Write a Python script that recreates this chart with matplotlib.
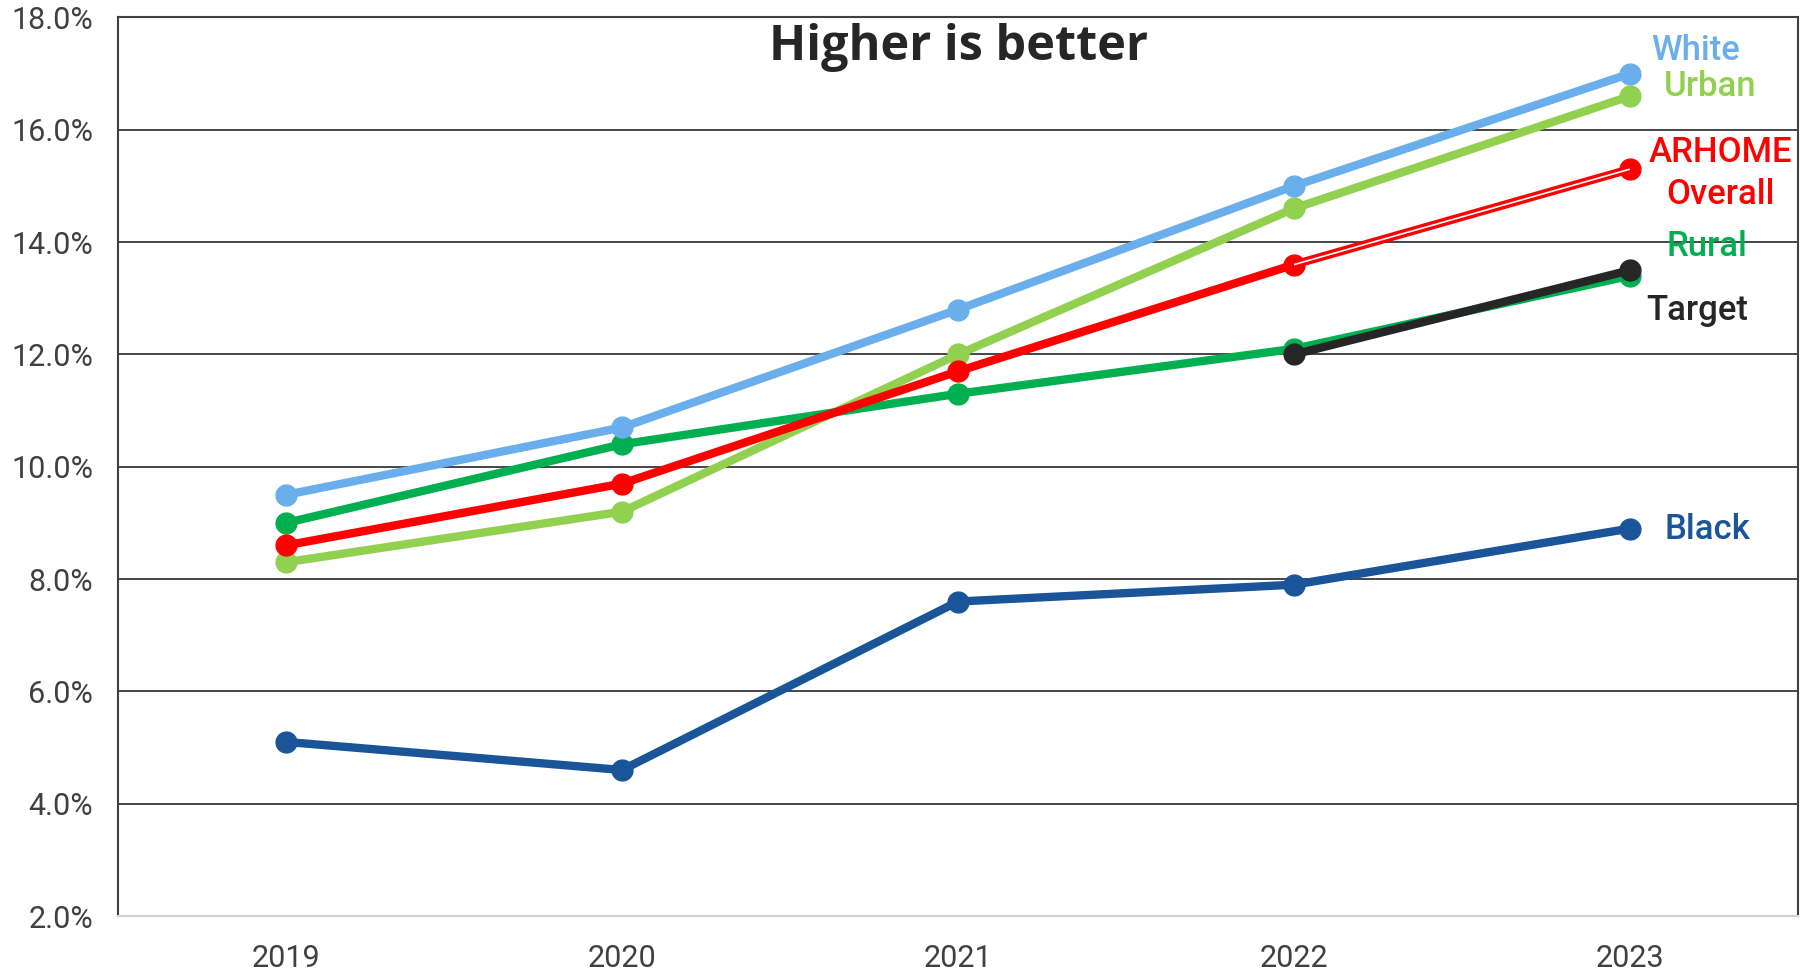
import numpy as np
import matplotlib
matplotlib.use("Agg")
import matplotlib.pyplot as plt

years = ["2019", "2020", "2021", "2022", "2023"]
white = [9.5, 10.7, 12.8, 15.0, 17.0]
urban = [8.3, 9.2, 12.0, 14.6, 16.6]
overall = [8.6, 9.7, 11.7, 13.6, 15.3]
rural = [9.0, 10.4, 11.3, 12.1, 13.4]
target_years = ["2022", "2023"]
target = [12.0, 13.5]
black = [5.1, 4.6, 7.6, 7.9, 8.9]

yticks = [2, 4, 6, 8, 10, 12, 14, 16, 18]

C_WHITE = "#6aaeeb"
C_URBAN = "#92d050"
C_RED = "#ff0000"
C_RURAL = "#00b050"
C_TARGET = "#262626"
C_BLACK = "#1a5599"

plt.rcParams["font.family"] = ["Roboto", "DejaVu Sans"]

fig = plt.figure(figsize=(18, 9.72), dpi=100)
ax = fig.add_axes([0.0656, 0.0576, 0.9333, 0.9244])

x = np.arange(len(years))
xt = np.array([years.index(y) for y in target_years])

lw, ms = 6, 15
ax.plot(x, black, "-o", color=C_BLACK, lw=lw, ms=ms, zorder=3)
ax.plot(x, urban, "-o", color=C_URBAN, lw=lw, ms=ms, zorder=3)
ax.plot(x, rural, "-o", color=C_RURAL, lw=lw, ms=ms, zorder=3)
ax.plot(x, overall, "-o", color=C_RED, lw=lw, ms=ms, zorder=4)
# last red segment is drawn hollow in the original
ax.plot(x[3:], overall[3:], "-", color="white", lw=1.2, zorder=4.5,
        solid_capstyle="butt")
ax.plot(x, white, "-o", color=C_WHITE, lw=lw, ms=ms, zorder=3)
ax.plot(xt, target, "-o", color=C_TARGET, lw=lw, ms=ms, zorder=5)

ax.set_xlim(-0.5, 4.5)
ax.set_ylim(2, 18)
ax.set_xticks(x)
ax.set_xticklabels(years)
ax.set_yticks(yticks)
ax.set_yticklabels([f"{v:.1f}%" for v in yticks])
ax.tick_params(axis="both", length=0, labelsize=22, colors="#404040")
ax.tick_params(axis="x", pad=20)
ax.tick_params(axis="y", pad=18)

ax.yaxis.grid(True, color="#262626", lw=1.2)
ax.set_axisbelow(True)
for side in ("left", "right", "top"):
    ax.spines[side].set_color("#404040")
    ax.spines[side].set_linewidth(1.5)
ax.spines["bottom"].set_color("#d0d0d0")
ax.spines["bottom"].set_linewidth(1.5)

ax.text(0.5, 0.9527, "Higher is better", transform=ax.transAxes, ha="center",
        va="baseline", fontsize=35, fontweight="bold", color="#262626",
        family=["Open Sans", "DejaVu Sans"])

labels = [
    ("White", 4.196, 17.41, C_WHITE),
    ("Urban", 4.24, 16.77, C_URBAN),
    ("ARHOME", 4.27, 15.59, C_RED),
    ("Overall", 4.27, 14.84, C_RED),
    ("Rural", 4.23, 13.92, C_RURAL),
    ("Target", 4.20, 12.78, C_TARGET),
    ("Black", 4.23, 8.88, C_BLACK),
]
for txt, lx, ly, c in labels:
    ax.text(lx, ly, txt, color=c, fontsize=25, ha="center", va="center",
            fontweight="medium")

fig.savefig("out.png", dpi=100)
